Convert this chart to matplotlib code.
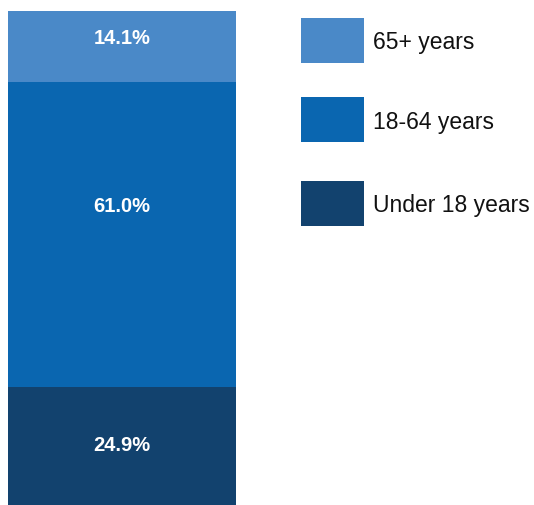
import matplotlib
matplotlib.use("Agg")
import matplotlib.pyplot as plt
from matplotlib.patches import Rectangle

# Age groups, stacked from the bottom up
groups = ["Under 18 years", "18-64 years", "65+ years"]
shares = [24.9, 61.0, 14.1]
colors = ["#12426e", "#0a66b0", "#4a89c8"]
labels = ["24.9%", "61.0%", "14.1%"]

W, H = 534, 505
fig = plt.figure(figsize=(W / 100, H / 100), dpi=100)
plt.rcParams["font.family"] = ["Liberation Sans", "DejaVu Sans"]

# axes spans the bar; bottom runs slightly past the figure edge
ax = fig.add_axes([8 / W, (H - 511) / H, 228 / W, 500 / H])
bottom = 0
label_pos = [0.53, 0.59, 0.61]
for g, s, c, lab, f in zip(groups, shares, colors, labels, label_pos):
    ax.bar(0, s, bottom=bottom, width=1, color=c, linewidth=0)
    ax.text(0, bottom + s * f, lab, ha="center", va="center",
            color="white", fontsize=14.5, fontweight="bold")
    bottom += s
ax.set_xlim(-0.5, 0.5)
ax.set_ylim(0, 100)
ax.axis("off")

# legend: big colour swatches with labels, top entry = top segment
key_tops = [181, 97, 18]
for g, c, top in zip(groups, colors, key_tops):
    fig.add_artist(Rectangle((301 / W, 1 - (top + 45) / H), 63 / W, 45 / H,
                             transform=fig.transFigure, facecolor=c,
                             linewidth=0))
    fig.text(373 / W, 1 - (top + 25) / H, g, ha="left", va="center",
             fontsize=16.5, color="#111111")

fig.savefig("out.png", dpi=100)
